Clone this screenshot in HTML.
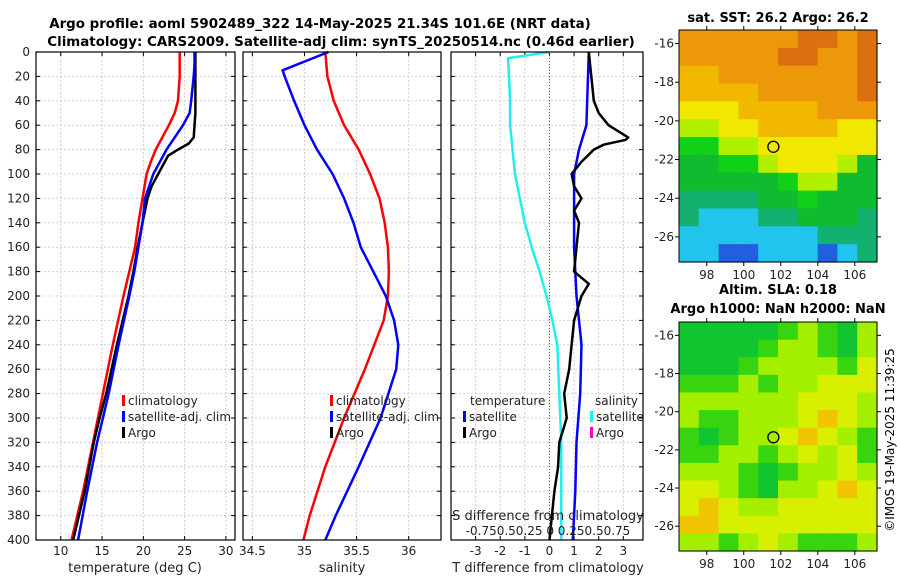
<!DOCTYPE html>
<html><head><meta charset="utf-8"><style>
body{margin:0;background:#fff;width:900px;height:580px;overflow:hidden}
svg{font-family:"DejaVu Sans","Liberation Sans",sans-serif}
</style></head><body>
<svg id="fig" width="900" height="580" xmlns="http://www.w3.org/2000/svg">
<text x="320" y="28" font-size="13.4" font-weight="bold" text-anchor="middle">Argo profile: aoml 5902489_322 14-May-2025 21.34S 101.6E (NRT data)</text>
<text x="341" y="46" font-size="13.4" font-weight="bold" text-anchor="middle">Climatology: CARS2009. Satellite-adj clim: synTS_20250514.nc (0.46d earlier)</text>
<text x="778" y="22" font-size="13" font-weight="bold" text-anchor="middle">sat. SST: 26.2 Argo: 26.2</text>
<text x="778" y="294" font-size="13" font-weight="bold" text-anchor="middle">Altim. SLA: 0.18</text>
<text x="778" y="313" font-size="13" font-weight="bold" text-anchor="middle">Argo h1000: NaN h2000: NaN</text>
<text transform="translate(894,440) rotate(-90)" font-size="12" text-anchor="middle">©IMOS 19-May-2025 11:39:25</text>
</svg>
<script>
const depths=[0,10,20,40,50,60,70,80,90,100,120,140,160,180,200,240,280,320,360,400];
const climT=[24.4,24.4,24.4,24.2,23.8,23.1,22.3,21.5,20.9,20.4,19.9,19.4,19.0,18.3,17.6,16.3,15.1,13.9,12.7,11.3];
const satT=[26.2,26.2,26.1,25.8,25.6,24.8,23.8,22.8,22.0,21.2,20.2,19.9,19.4,18.9,18.3,17.0,15.8,14.4,13.2,12.1];
const argoDepths=[0,50,70,75,80,85,100,110,120,140,160,180,200,240,280,300,320,360,400];
const argoT=[26.3,26.3,26.1,25.5,24.2,23.0,21.8,21.0,20.5,19.9,19.3,18.8,18.2,16.8,15.5,14.7,14.0,12.9,11.5];
const sDepths=[0,20,40,60,80,100,120,140,160,180,200,220,260,300,340,380,400];
const climS=[35.20,35.22,35.28,35.38,35.52,35.63,35.72,35.77,35.80,35.81,35.80,35.76,35.58,35.38,35.20,35.05,34.99];
const satSDepths=[0,15,20,40,60,80,100,120,140,160,180,200,220,240,260,300,340,380,400];
const satS=[35.23,34.79,34.81,34.90,35.00,35.12,35.27,35.38,35.47,35.54,35.66,35.78,35.86,35.90,35.88,35.73,35.52,35.30,35.20];
const dDepths=[0,60,80,100,160,200,240,280,320,360,400];
const satTdiff=[1.6,1.5,1.2,1.0,1.0,1.1,1.3,1.25,1.1,1.05,0.95];
const argoDiffDepths=[0,40,50,60,70,72,76,80,90,100,110,120,130,140,160,180,190,200,220,240,260,280,300,320,340,360,380,400];
const argoTdiff=[1.6,1.8,2.0,2.4,3.2,3.1,2.2,1.8,1.3,0.9,1.0,1.3,1.0,1.2,1.1,1.0,1.6,1.3,1.0,0.9,0.8,0.6,0.7,0.4,0.35,0.2,0.1,0.0];
const sdDepths=[0,5,40,60,100,120,140,160,180,200,220,240,280,320,400];
const satSdiff=[0,-0.42,-0.40,-0.40,-0.35,-0.30,-0.25,-0.18,-0.10,-0.03,0.03,0.08,0.10,0.12,0.12];
const yTicks=[0,20,40,60,80,100,120,140,160,180,200,220,240,260,280,300,320,340,360,380,400];
const tTicks=[10,15,20,25,30];
const sTicks=[34.5,35,35.5,36];
const dTicks=[-3,-2,-1,0,1,2,3];
const sdTickLabels="-0.750.50.25 0 0.250.50.75";
const sstGrid=[
[8,8,8,8,8,8,9,9,8,9],[8,8,8,8,8,9,9,8,8,9],[7,7,8,8,8,8,8,8,8,9],[7,7,7,7,8,8,8,8,8,9],
[6,6,6,7,7,7,7,8,8,8],[5,5,6,6,7,7,7,7,6,6],[4,4,5,5,6,6,6,6,6,6],[3,3,4,4,5,6,6,6,5,3],
[3,3,3,3,3,4,5,5,3,3],[2,2,2,2,3,3,4,3,3,3],[2,1,1,1,2,2,3,3,3,2],[1,1,1,1,1,1,1,2,2,2],[1,1,0,0,1,1,1,0,1,2]];
const slaGrid=[
[3,3,3,3,3,4,5,4,3,5],[3,3,3,3,4,5,5,4,3,5],[3,3,3,4,5,5,5,5,4,6],[4,4,4,5,4,5,5,6,6,6],
[5,5,5,5,5,5,6,6,6,5],[5,4,4,5,5,5,6,7,6,5],[4,3,4,5,5,6,7,6,5,4],[4,4,5,5,4,5,6,5,6,4],
[5,5,5,4,3,4,5,5,6,5],[6,6,5,4,3,5,5,6,7,6],[6,7,6,5,5,6,6,6,6,6],[7,7,6,6,6,6,6,6,6,6],[5,5,4,5,6,5,4,4,4,5]];
const lonTicks=[98,100,102,104,106];
const latTicks=[-16,-18,-20,-22,-24,-26];
const argoLon=101.6, argoLat=-21.34;

const svg=document.getElementById('fig');const NS='http://www.w3.org/2000/svg';
function el(t,a,txt){const e=document.createElementNS(NS,t);for(const k in a)e.setAttribute(k,a[k]);if(txt!==undefined)e.textContent=txt;svg.appendChild(e);return e;}
const Y0=52,Y1=540;const yD=d=>Y0+d/400*(Y1-Y0);
const panels=[{x0:36,x1:235,lo:7,hi:31.1,ticks:tTicks,name:'temperature'},{x0:243,x1:441,lo:34.41,hi:36.31,ticks:sTicks,name:'salinity'},{x0:451,x1:643,lo:-4.0,hi:3.8,ticks:dTicks,name:'difference'}];
panels.forEach(p=>{p.fx=v=>p.x0+(v-p.lo)/(p.hi-p.lo)*(p.x1-p.x0);});
panels.forEach((p,i)=>{
 yTicks.forEach(d=>{if(d>0&&d<400){const g=el('line',{x1:p.x0,x2:p.x1,y1:yD(d),y2:yD(d),stroke:'#c8d0ee','stroke-dasharray':'2,2','stroke-width':1});
 }
 const t1=el('line',{x1:p.x0,x2:p.x0+4,y1:yD(d),y2:yD(d),stroke:'#000'});
 const t2=el('line',{x1:p.x1-4,x2:p.x1,y1:yD(d),y2:yD(d),stroke:'#000'});});
 p.ticks.forEach(v=>{const x=p.fx(v);
 const g=el('line',{x1:x,x2:x,y1:Y0,y2:Y1,stroke:'#e8c8b8','stroke-dasharray':'2,2'});
 const tk=el('line',{x1:x,x2:x,y1:Y1-4,y2:Y1,stroke:'#000'});
 const tk2=el('line',{x1:x,x2:x,y1:Y0,y2:Y0+4,stroke:'#000'});
 const lb=el('text',{x:x,y:555,'font-size':12,'text-anchor':'middle',fill:'#222'},String(v));});
});
yTicks.forEach(d=>{const t=el('text',{x:30,y:yD(d)+4,'font-size':12,'text-anchor':'end',fill:'#222'},String(d));});
const zl=el('line',{x1:panels[2].fx(0),x2:panels[2].fx(0),y1:Y0,y2:Y1,stroke:'#556633','stroke-dasharray':'1,2'});

function series(p,ds,vs,col,name,w){const pts=ds.map((d,i)=>p.fx(vs[i]).toFixed(1)+','+yD(d).toFixed(1)).join(' ');
 const l=el('polyline',{points:pts,fill:'none',stroke:col,'stroke-width':w||2.5,'stroke-linejoin':'round'});
 }
const P=panels;
series(P[0],depths,climT,'#f00','temp-climatology-line');
series(P[0],argoDepths,argoT,'#000','temp-argo-line');
series(P[0],depths,satT,'#00f','temp-satellite-line');
series(P[1],sDepths,climS,'#f00','sal-climatology-line');
series(P[1],satSDepths,satS,'#00f','sal-satellite-line');
const sdP={fx:v=>P[2].fx(0)+v*4*(P[2].x1-P[2].x0)/(P[2].hi-P[2].lo)};
series(sdP,sdDepths,satSdiff,'#22eeee','sal-diff-satellite-line');
series(P[2],dDepths,satTdiff,'#00f','temp-diff-satellite-line');
series(P[2],argoDiffDepths,argoTdiff,'#000','temp-diff-argo-line');
panels.forEach(p=>{const r=el('rect',{x:p.x0,y:Y0,width:p.x1-p.x0,height:Y1-Y0,fill:'none',stroke:'#000','stroke-width':1.2});});
function txt(x,y,s,name,fs,anc){const t=el('text',{x:x,y:y,'font-size':fs||12,'text-anchor':anc||'start',fill:'#222'},s);return t;}
txt(135,572,'temperature (deg C)','x-axis-title-temperature',13,'middle');
txt(342,572,'salinity','x-axis-title-salinity',13,'middle');
txt(548,572,'T difference from climatology','x-axis-title-tdiff',13,'middle');
txt(548,520,'S difference from climatology','s-diff-axis-title',13,'middle');
txt(548,535,sdTickLabels,'s-diff-tick-labels',12,'middle');
function leg(x,y,col,label,name){const m=el('rect',{x:x,y:y-10,width:3,height:11,fill:col});txt(x+6,y,label,name,12);}
leg(122,405,'#f00','climatology','legend-t-climatology');leg(122,421,'#00f','satellite-adj. clim','legend-t-satellite');leg(122,437,'#000','Argo','legend-t-argo');
leg(330,405,'#f00','climatology','legend-s-climatology');leg(330,421,'#00f','satellite-adj. clim','legend-s-satellite');leg(330,437,'#000','Argo','legend-s-argo');
txt(470,405,'temperature','legend-tdiff-title',12);leg(463,421,'#00f','satellite','legend-tdiff-satellite');leg(463,437,'#000','Argo','legend-tdiff-argo');
txt(595,405,'salinity','legend-sdiff-title',12);leg(590,421,'#22eeee','satellite','legend-sdiff-satellite');leg(590,437,'#ff00cc','Argo','legend-sdiff-argo');
const sstCols=['#2060e0','#20c4ec','#14b070','#10bb30','#10d018','#b0f000','#f0e800','#f2b800','#ec9808','#dc7010'];
const slaCols=['#2060e0','#20c4ec','#14b070','#10c530','#38d410','#a4ee00','#d8f000','#f0c400','#f0a000','#dc7010'];
function map(x0,y0,x1,y1,lat0,lat1,grid,cols,name){
 const rows=grid.length,nc=grid[0].length,cw=(x1-x0)/nc,ch=(y1-y0)/rows;
 grid.forEach((r,i)=>r.forEach((v,j)=>{const c=el('rect',{x:x0+j*cw,y:y0+i*ch,width:cw+0.6,height:ch+0.6,fill:cols[v]});}));
 const fx=l=>x0+(l-96.5)/(107.2-96.5)*(x1-x0),fy=l=>y0+(lat0-l)/(lat0-lat1)*(y1-y0);
 const fr=el('rect',{x:x0,y:y0,width:x1-x0,height:y1-y0,fill:'none',stroke:'#000'});
 lonTicks.forEach(l=>{const x=fx(l);const t=el('line',{x1:x,x2:x,y1:y1,y2:y1+4,stroke:'#000'});
  const t2=el('line',{x1:x,x2:x,y1:y0-4,y2:y0,stroke:'#000'});
  txt(x,y1+17,String(l),'lon-tick-label',12,'middle');});
 latTicks.forEach(l=>{const y=fy(l);const t=el('line',{x1:x0-4,x2:x0,y1:y,y2:y,stroke:'#000'});
  const t2=el('line',{x1:x1,x2:x1+4,y1:y,y2:y,stroke:'#000'});
  txt(x0-5,y+4,String(l),'lat-tick-label',12,'end');});
 const c=el('circle',{cx:fx(argoLon),cy:fy(argoLat),r:5.5,fill:'none',stroke:'#000','stroke-width':1.3});}
map(679,30,877,262,-15.3,-27.3,sstGrid,sstCols,'sst-map');
map(679,322,877,551,-15.3,-27.3,slaGrid,slaCols,'sla-map');
</script></body></html>
